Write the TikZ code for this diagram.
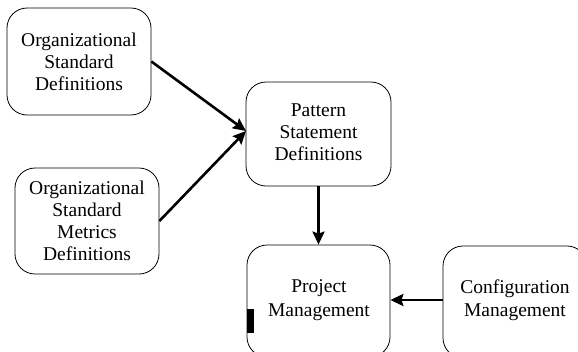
\documentclass[tikz,border=0pt]{standalone}
\usepackage{fontspec}
\setmainfont{Liberation Serif}
\usetikzlibrary{arrows.meta}
\begin{document}
\begin{tikzpicture}[x=1pt,y=-1pt,
  box/.style={draw=black,line width=0.8pt,rounded corners=20pt,inner sep=0pt},
  txt/.style={align=center,font=\fontsize{19.5}{22}\selectfont,inner sep=0pt},
  arr/.style={line width=2.6pt,-{Stealth[length=13pt,width=12pt,inset=2pt]}}]
\useasboundingbox (0,0) rectangle (578,351);
\node[box,minimum width=144pt,minimum height=107pt] (osd) at (79,61.5) {};
\node[txt] (osdt) at (79,62) {Organizational\\Standard\\Definitions};
\node[box,minimum width=144pt,minimum height=106pt] (osm) at (87,221) {};
\node[txt] (osmt) at (87,221) {Organizational\\Standard\\Metrics\\Definitions};
\node[box,minimum width=145pt,minimum height=104pt] (psd) at (318.5,134) {};
\node[txt] (psdt) at (318.5,132.5) {Pattern\\Statement\\Definitions};
\node[box,minimum width=143pt,minimum height=112pt] (pm) at (318.5,301) {};
\node[txt,font=\fontsize{19.5}{23.5}\selectfont] (pmt) at (319,300) {Project\\Management};
\node[box,minimum width=144pt,minimum height=112pt] (cm) at (515,302) {};
\node[txt,font=\fontsize{19.5}{23.5}\selectfont] (cmt) at (515,300) {Configuration\\Management};
\fill[black] (247,309) rectangle (254,333);
\coordinate (in) at (246,131);
\draw[arr] (osd.east) -- (in);
\draw[arr] (osm.east) -- (in);
\draw[arr] (psd.south) -- (pm.north);
\draw[arr] (cm.west |- 0,300) -- (pm.east |- 0,300);
\end{tikzpicture}
\end{document}
